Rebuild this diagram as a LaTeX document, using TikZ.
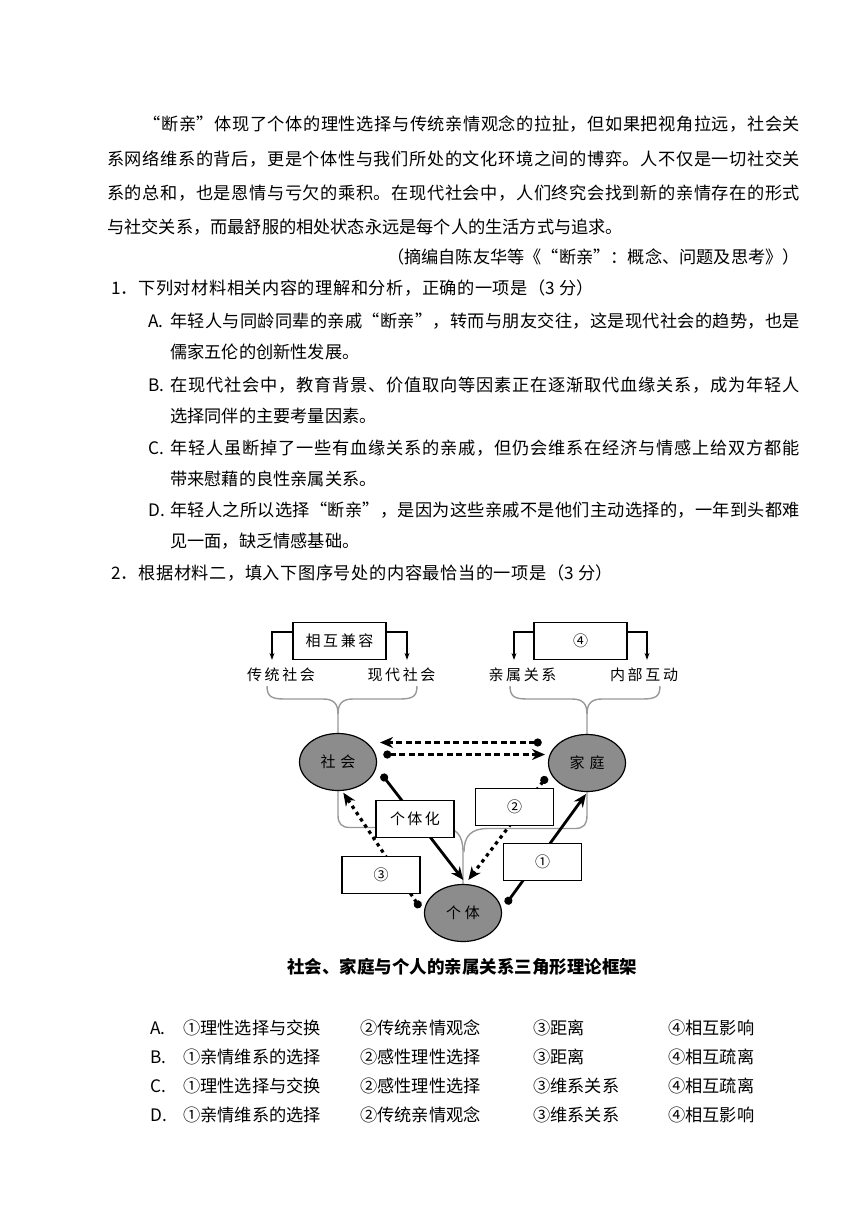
\documentclass[tikz,border=0pt]{standalone}
\usepackage{fontspec}
\setmainfont{Noto Sans CJK SC}
\usetikzlibrary{arrows.meta,shapes.geometric}
% glue between CJK characters, so that full lines can be justified
\XeTeXinterchartokenstate=1
\newcount\hanc
\hanc="2460 \loop\ifnum\hanc<"2474 \XeTeXcharclass\hanc=7 \advance\hanc by 1 \repeat
\hanc="3000 \loop\ifnum\hanc<"A000 \XeTeXcharclass\hanc=7 \advance\hanc by 1 \repeat
\hanc="FF00 \loop\ifnum\hanc<"FFF0 \XeTeXcharclass\hanc=7 \advance\hanc by 1 \repeat
\XeTeXcharclass"201C=7 \XeTeXcharclass"201D=7
\XeTeXinterchartoks 7 7 = {\hskip 0pt plus 3pt minus 1pt\relax}
\newcommand\fullline[2]{\makebox[#1][s]{#2}}
\tikzset{
  txt/.style={anchor=base west, inner sep=0pt, font=\fontsize{17.2}{21}\selectfont},
  opt/.style={anchor=base west, inner sep=0pt, font=\fontsize{17.2}{21}\selectfont},
  circ/.style={ellipse, draw=black, line width=1.2pt, fill=black!45, minimum width=77pt,
    minimum height=57pt, inner sep=0pt, font=\fontsize{15}{18}\selectfont},
  numbox/.style={draw=black, line width=1.1pt, fill=white, minimum width=78pt,
    minimum height=37pt, inner sep=0pt, font=\fontsize{15}{18}\selectfont},
  topbox/.style={numbox, minimum width=93pt},
  tag/.style={inner sep=2pt, font=\fontsize{15}{18}\selectfont},
  tarr/.style={line width=1.1pt, -{Stealth[length=7pt,width=5pt]}, shorten >=6pt},
  brace/.style={black!40, line width=1.4pt},
  dotstart/.style={{Circle[length=8pt]}-{Stealth[length=13pt,width=11pt]}},
  solidarr/.style={dotstart, line width=2.8pt},
  dasharr/.style={dotstart, line width=2.8pt, dash pattern=on 6pt off 3.5pt},
  dotarr/.style={dotstart, line width=3.2pt, dash pattern=on 3.5pt off 4pt},
}
\begin{document}
\begin{tikzpicture}[x=1pt,y=-1pt]
  \useasboundingbox[fill=white] (0,0) rectangle (868,1227);

  % passage and questions
  \node[txt] (l1) at (143.4,130) {\fullline{656.6pt}{“断亲”体现了个体的理性选择与传统亲情观念的拉扯，但如果把视角拉远，社会关}};
  \node[txt] (l2) at (107,165) {\fullline{693pt}{系网络维系的背后，更是个体性与我们所处的文化环境之间的博弈。人不仅是一切社交关}};
  \node[txt] (l3) at (107,199) {\fullline{693pt}{系的总和，也是恩情与亏欠的乘积。在现代社会中，人们终究会找到新的亲情存在的形式}};
  \node[txt] (l4) at (107,233) {与社交关系，而最舒服的相处状态永远是每个人的生活方式与追求。};
  \node[txt, anchor=base east] (src) at (800,263) {（摘编自陈友华等《“断亲”：概念、问题及思考》）};
  \node[txt] (q1) at (111,294) {\fullline{483pt}{1．下列对材料相关内容的理解和分析，正确的一项是（3 分）}};
  \node[txt] (qa) at (148,327) {A.};
  \node[txt] (qa1) at (170,327) {\fullline{630pt}{年轻人与同龄同辈的亲戚“断亲”，转而与朋友交往，这是现代社会的趋势，也是}};
  \node[txt] (qa2) at (170,358) {儒家五伦的创新性发展。};
  \node[txt] (qb) at (148,391) {B.};
  \node[txt] (qb1) at (170,391) {\fullline{630pt}{在现代社会中，教育背景、价值取向等因素正在逐渐取代血缘关系，成为年轻人}};
  \node[txt] (qb2) at (170,422) {选择同伴的主要考量因素。};
  \node[txt] (qc) at (148,454) {C.};
  \node[txt] (qc1) at (170,454) {\fullline{630pt}{年轻人虽断掉了一些有血缘关系的亲戚，但仍会维系在经济与情感上给双方都能}};
  \node[txt] (qc2) at (170,485) {带来慰藉的良性亲属关系。};
  \node[txt] (qd) at (148,516) {D.};
  \node[txt] (qd1) at (170,516) {\fullline{630pt}{年轻人之所以选择“断亲”，是因为这些亲戚不是他们主动选择的，一年到头都难}};
  \node[txt] (qd2) at (170,547) {见一面，缺乏情感基础。};
  \node[txt] (q2) at (111,579) {\fullline{502pt}{2．根据材料二，填入下图序号处的内容最恰当的一项是（3 分）}};

  % top labels
  \node[topbox] (jianrong) at (339.5,641) {\fullline{68pt}{相互兼容}};
  \node[topbox] (bx4) at (580.5,641) {④};
  \node[tag] (chuantong) at (281,675) {\fullline{68pt}{传统社会}};
  \node[tag] (xiandai) at (401.5,675) {\fullline{68pt}{现代社会}};
  \node[tag] (qinshu) at (522.5,675) {\fullline{68pt}{亲属关系}};
  \node[tag] (neibu) at (644,675) {\fullline{68pt}{内部互动}};
  \draw[tarr] ([yshift=9pt]jianrong.west) -| ([xshift=-9pt]chuantong.north);
  \draw[tarr] ([yshift=9pt]jianrong.east) -| ([xshift=5.5pt]xiandai.north);
  \draw[tarr] ([yshift=9pt]bx4.west) -| ([xshift=-8.5pt]qinshu.north);
  \draw[tarr] ([yshift=9pt]bx4.east) -| ([xshift=3pt]neibu.north);

  % gray braces
  \draw[brace] (267,686) .. controls (267,697) and (272,699) .. (285,699) -- (323,699)
    .. controls (334,699) and (338,704) .. (338,714) -- (338,734);
  \draw[brace] (417,686) .. controls (417,697) and (412,699) .. (399,699) -- (353,699)
    .. controls (342,699) and (338,704) .. (338,714);
  \draw[brace] (510,686) .. controls (510,697) and (515,699) .. (528,699) -- (572,699)
    .. controls (583,699) and (587,704) .. (587,714) -- (587,735);
  \draw[brace] (660,686) .. controls (660,697) and (655,699) .. (642,699) -- (602,699)
    .. controls (591,699) and (587,704) .. (587,714);
  \draw[brace] (338,790) -- (338,815) .. controls (338,824) and (342,827.5) .. (350,827.5)
    -- (442,827.5) .. controls (457,827.5) and (463,836) .. (463,852) -- (463,886);
  \draw[brace] (587,791) -- (587,815) .. controls (587,825) and (583,828.5) .. (575,828.5)
    -- (488,828.5) .. controls (471,828.5) and (464,836) .. (464,852);

  % the three ellipses
  \node[circ] (shehui) at (338,762) {\fullline{35pt}{社会}};
  \node[circ] (jiating) at (587,763) {\fullline{35pt}{家庭}};
  \node[circ] (geti) at (463,913) {\fullline{34pt}{个体}};

  % end points of the links
  \coordinate (jt1) at (541.7,742.5);
  \coordinate (sh1) at (380,742.5);
  \coordinate (sh2) at (383.3,754.5);
  \coordinate (jt2) at (545,754.5);
  \coordinate (sh3) at (381.7,774.3);
  \coordinate (gt3) at (463.3,880);
  \coordinate (gt4) at (420,907.7);
  \coordinate (sh4) at (343.3,792.7);
  \coordinate (jt5) at (546.7,776.7);
  \coordinate (gt5) at (468.3,880);
  \coordinate (gt6) at (506,904);
  \coordinate (jt6) at (586,794);
  \draw[dasharr] (jt1) -- (sh1);
  \draw[dasharr] (sh2) -- (jt2);
  \draw[solidarr] (sh3) -- (gt3);
  \draw[dotarr] (gt4) -- (sh4);
  \draw[dotarr] (jt5) -- (gt5);
  \draw[solidarr] (gt6) -- (jt6);

  % boxes on the links
  \node[numbox] (gth) at (415,819) {\fullline{50pt}{个体化}};
  \node[numbox] (bx2) at (514.5,806.7) {②};
  \node[numbox] (bx1) at (542.5,861.7) {①};
  \node[numbox] (bx3) at (381,875) {③};

  \node[font=\fontsize{17.5}{20}\selectfont\bfseries] (cap) at (462,967)
    {社会、家庭与个人的亲属关系三角形理论框架};

  % answer choices
  \foreach \lab/\ta/\tb/\tc/\td [count=\i] in
    {A/理性选择与交换/传统亲情观念/距离/相互影响,
     B/亲情维系的选择/感性理性选择/距离/相互疏离,
     C/理性选择与交换/感性理性选择/维系关系/相互疏离,
     D/亲情维系的选择/传统亲情观念/维系关系/相互影响}
  {
    \node[opt] (opt\lab) at (150,{1005.5+29*\i}) {\lab.};
    \node[opt] (opt\lab a) at (183,{1005.5+29*\i}) {①\ta};
    \node[opt] (opt\lab b) at (360,{1005.5+29*\i}) {②\tb};
    \node[opt] (opt\lab c) at (533,{1005.5+29*\i}) {③\tc};
    \node[opt] (opt\lab d) at (668,{1005.5+29*\i}) {④\td};
  }
\end{tikzpicture}
\end{document}
